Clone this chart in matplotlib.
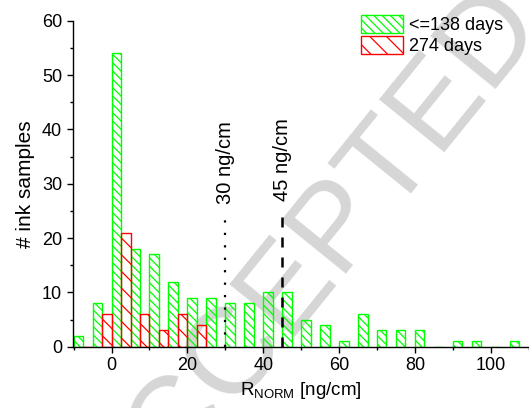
import matplotlib
matplotlib.use("Agg")
import matplotlib.pyplot as plt
import numpy as np
from matplotlib.ticker import MultipleLocator

# ---- data (bins of width 5 ng/cm) ----
bin_starts = [-10, -5, 0, 5, 10, 15, 20, 25, 30, 35, 40, 45, 50, 55, 60, 65,
              70, 75, 80, 85, 90, 95, 100, 105]
green_counts = [2, 8, 54, 18, 17, 12, 9, 9, 8, 8, 10, 10, 5, 4, 1, 6,
                3, 3, 3, 0, 1, 1, 0, 1]
red_bin_starts = [-10, -5, 0, 5, 10, 15, 20]
red_counts = [0, 6, 21, 6, 3, 6, 4]
label_green = "<=138 days"
label_red = "274 days"
thresholds = [30, 45]
threshold_labels = ["30 ng/cm", "45 ng/cm"]

plt.rcParams['font.family'] = ['Liberation Sans', 'DejaVu Sans']
plt.rcParams['font.size'] = 13
plt.rcParams['mathtext.fontset'] = 'custom'
plt.rcParams['mathtext.rm'] = 'Liberation Sans'
plt.rcParams['mathtext.it'] = 'Liberation Sans:italic'
plt.rcParams['hatch.linewidth'] = 0.9

fig = plt.figure(figsize=(5.29, 4.08), dpi=100)
ax = fig.add_axes([72.5/529, 1-346.7/408, (528.7-72.5)/529, (346.7-20.7)/408])

# watermark
fig.text(312/529, 1-266/408, "ACCEPTED", rotation=51, fontsize=88,
         color='#d6d6d6', ha='center', va='center', zorder=-1,
         rotation_mode='anchor')
ax.patch.set_alpha(0)

green = '#00ff00'
red = '#ff0000'
w = 2.5
ax.bar(bin_starts, green_counts, width=w, align='edge', facecolor='none',
       edgecolor=green, hatch='\\\\\\\\', linewidth=1.0, label=label_green, zorder=2)
ax.bar([b + w for b in red_bin_starts], red_counts, width=w, align='edge',
       facecolor='none', edgecolor=red, hatch='\\\\', linewidth=1.0,
       label=label_red, zorder=2)

ax.plot([thresholds[0]]*2, [0, 24.0], color='black', lw=1.6,
        dashes=(1, 4.6), zorder=3)
ax.plot([thresholds[1]]*2, [0, 24.6], color='black', lw=1.8,
        dashes=(4, 4), zorder=3)
ax.text(thresholds[0], 26.3, threshold_labels[0], rotation=90, ha='center',
        va='bottom', fontsize=14.5)
ax.text(thresholds[1], 26.8, threshold_labels[1], rotation=90, ha='center',
        va='bottom', fontsize=14.5)

ax.set_xlim(-10.3, 110)
ax.set_ylim(0, 60)
ax.xaxis.set_major_locator(MultipleLocator(20))
ax.xaxis.set_minor_locator(MultipleLocator(10))
ax.yaxis.set_major_locator(MultipleLocator(10))
ax.yaxis.set_minor_locator(MultipleLocator(5))
ax.tick_params(which='major', direction='out', length=4.5, width=1.0, pad=3)
ax.tick_params(which='minor', direction='out', length=2.5, width=1.0)
for s in ['top', 'right']:
    ax.spines[s].set_visible(False)
for s in ['left', 'bottom']:
    ax.spines[s].set_linewidth(1.0)

ax.set_ylabel("# ink samples", labelpad=5, fontsize=15)
ax.set_xlabel(r"R$_{\mathrm{NORM}}$ [ng/cm]", labelpad=4, fontsize=13.5)

leg = ax.legend(loc='upper left', bbox_to_anchor=(361/529, 1-15/408),
                bbox_transform=fig.transFigure, frameon=False, borderpad=0,
                handlelength=2.33, handleheight=1.17, handletextpad=0.35,
                labelspacing=0.1, borderaxespad=0, fontsize=13)

fig.savefig("out.png", dpi=100)
